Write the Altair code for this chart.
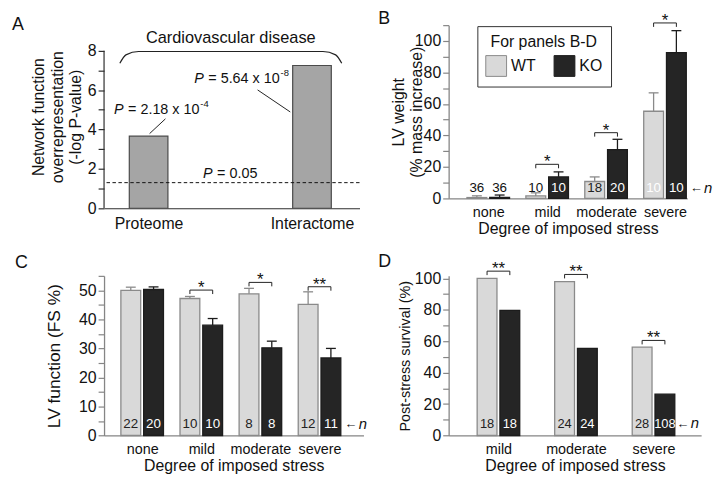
import json
import altair as alt
import pandas as pd

FONT = "Liberation Sans"
INK = "#111111"
GRAY = "#858585"
LIGHT = "#d9d9d9"
LIGHT_EDGE = "#8a8a8a"
DARK = "#252525"
DARK_EDGE = "#1c1c1c"
A_FILL = "#a5a5a5"
A_EDGE = "#4a4a4a"
A_AXIS = "#2e2e2e"

# ---------------- data ----------------
# Panel A
a_cats = ["Proteome", "Interactome"]
a_vals = [3.66, 7.25]              # -log10 P
a_pvals = ["2.18", "5.64"]
a_exps = ["-4", "-8"]
a_thresh = 1.30                    # -log10(0.05)
a_thresh_p = "0.05"
a_group = "Cardiovascular disease"

# Panel B: LV weight (% mass increase)
stress4 = ["none", "mild", "moderate", "severe"]
b_wt = [0.5, 1.5, 10.7, 55.3]
b_wt_err = [1.1, 2.0, 2.9, 11.7]
b_ko = [0.6, 13.6, 31.0, 92.5]
b_ko_err = [1.5, 3.2, 6.5, 14.0]
b_n_wt = [36, 10, 18, 10]
b_n_ko = [36, 10, 20, 10]
b_sig = ["", "*", "*", "*"]

# Panel C: LV function (FS %)
c_wt = [50.0, 47.2, 48.8, 45.2]
c_wt_err = [1.1, 0.7, 1.9, 4.3]
c_ko = [50.3, 38.0, 30.2, 26.7]
c_ko_err = [0.9, 2.3, 2.3, 3.3]
c_n_wt = [22, 10, 8, 12]
c_n_ko = [20, 10, 8, 11]
c_sig = ["", "*", "*", "**"]

# Panel D: post-stress survival (%)
stress3 = ["mild", "moderate", "severe"]
d_wt = [100.0, 98.0, 56.3]
d_ko = [79.6, 55.5, 26.3]
d_n_wt = [18, 24, 28]
d_n_ko = [18, 24, 108]
d_sig = ["**", "**", "**"]

# annotation placement (bracket heights, in data units) and label colours
b_sig_level = [None, 21.6, 41.7, 111.4]
c_sig_level = [None, 50.1, 52.75, 51.25]
d_sig_level = [104.6, 102.5, 60.5]
b_ncol_wt = [INK, INK, "#222222", "#ffffff"]
b_ncol_ko = [INK, "#ffffff", "#ffffff", "#ffffff"]
c_ncol_wt = ["#222222"] * 4
c_ncol_ko = ["#ffffff"] * 4
d_ncol_wt = ["#222222"] * 3
d_ncol_ko = ["#ffffff"] * 3


def letter_mark(letter, lx, ly):
    return alt.Chart(pd.DataFrame(dict(t=[letter]))).mark_text(
        fontSize=18, align="left", baseline="alphabetic", color=INK, font=FONT).encode(
        x=alt.value(lx), y=alt.value(ly), text="t:N")


def grouped(cats, wt, ko, wt_err, ko_err, n_wt, n_ko, ncol_wt, ncol_ko, sig, sig_level,
            unit, c0, width, height, ymax, yvalues, ylab_step, ytitle, ytitle_pad, ytitle_size,
            n_y, n_size, arrow_dx, legend, letter, lx, ly, title_lh=18):
    k = 1.0 / unit
    half, off, cap = 10 * k, 11.5 * k, 5 * k
    rows = []
    for i, c in enumerate(cats):
        for g, vals, errs, ns, ncols, sgn in (("WT", wt, wt_err, n_wt, ncol_wt, -1),
                                               ("KO", ko, ko_err, n_ko, ncol_ko, 1)):
            xc = i + sgn * off
            v = vals[i]
            r = dict(grp=g, cat=c, xc=xc, x1=xc - half, x2=xc + half, v=v, zero=0.0,
                     cx1=xc - cap, cx2=xc + cap, n=str(ns[i]), ncol=ncols[i], ny=n_y)
            if errs is not None:
                r["top"] = v + errs[i]
            rows.append(r)
    df = pd.DataFrame(rows)

    ppu = height / ymax
    drop = 4.0 / ppu
    br, st = [], []
    for i, (s, lvl) in enumerate(zip(sig, sig_level)):
        if not s:
            continue
        pts = [(i - off, lvl - drop), (i - off, lvl), (i + off, lvl), (i + off, lvl - drop)]
        for j, (px, py) in enumerate(pts):
            br.append(dict(bid=i, o=j, bx=px, by=py))
        st.append(dict(sx=float(i), sy=lvl, s=s))
    dfb = pd.DataFrame(br)
    dfs = pd.DataFrame(st)
    dfa = pd.DataFrame(dict(ax=[len(cats) - 1 + off + half], ay=[n_y], t=["\u2190"], n=["n"]))

    xs = alt.Scale(domain=[-c0 * k, (width - c0) * k], nice=False, zero=False)
    ys = alt.Scale(domain=[0, ymax], nice=False, zero=False)
    xax = alt.Axis(values=list(range(len(cats))), labelExpr=f"{json.dumps(cats)}[datum.value]",
                   ticks=False, domainColor=GRAY, domainWidth=1.3, labelFontSize=14.5,
                   labelPadding=7, labelColor=INK, labelOverlap=False, labelFlush=False,
                   title="Degree of imposed stress", titleFontSize=16, titlePadding=2,
                   titleFontWeight="normal", titleColor=INK)
    yax = alt.Axis(values=yvalues,
                   labelExpr=f"datum.value % {ylab_step} === 0 ? datum.label : ''",
                   tickSize=6, tickColor=GRAY, tickWidth=1.2, domainColor=GRAY, domainWidth=1.3,
                   labelFontSize=16, labelPadding=2, labelColor=INK, labelOverlap=False,
                   labelFlush=False, title=ytitle, titleFontSize=ytitle_size,
                   titlePadding=ytitle_pad, titleFontWeight="normal", titleColor=INK,
                   titleLineHeight=title_lh)

    def X(f):
        return alt.X(f, type="quantitative", scale=xs, axis=xax)

    def Y(f):
        return alt.Y(f, type="quantitative", scale=ys, axis=yax)

    stroke_sc = alt.Scale(domain=["WT", "KO"], range=[LIGHT_EDGE, DARK_EDGE])
    layers = [
        alt.Chart(df).mark_rect(strokeWidth=1.3).encode(
            x=X("x1"), x2="x2", y=Y("v"), y2="zero",
            color=alt.Color("grp:N", scale=alt.Scale(domain=["WT", "KO"], range=[LIGHT, DARK]),
                            legend=legend),
            stroke=alt.Stroke("grp:N", scale=stroke_sc, legend=None)),
    ]
    if wt_err is not None:
        layers += [
            alt.Chart(df).mark_rule(strokeWidth=1.3).encode(
                x=X("xc"), y=Y("v"), y2="top",
                stroke=alt.Stroke("grp:N", scale=stroke_sc, legend=None)),
            alt.Chart(df).mark_rule(strokeWidth=1.3).encode(
                x=X("cx1"), x2="cx2", y=Y("top"),
                stroke=alt.Stroke("grp:N", scale=stroke_sc, legend=None)),
        ]
    layers += [
        alt.Chart(df).mark_text(fontSize=n_size, baseline="middle", align="center", font=FONT).encode(
            x=X("xc"), y=Y("ny"), text="n:N", fill=alt.Fill("ncol:N", scale=None)),
        alt.Chart(dfb).mark_line(color="#222222", strokeWidth=1).encode(
            x=X("bx"), y=Y("by"), detail="bid:N", order="o:Q"),
        alt.Chart(dfs).mark_text(fontSize=17, baseline="alphabetic", dy=3, color=INK, font=FONT).encode(
            x=X("sx"), y=Y("sy"), text="s:N"),
        alt.Chart(dfa).mark_text(fontSize=13, align="left", baseline="middle", dx=arrow_dx,
                                 color=INK, font=FONT).encode(x=X("ax"), y=Y("ay"), text="t:N"),
        alt.Chart(dfa).mark_text(fontSize=15, align="left", baseline="middle", dx=arrow_dx + 14,
                                 fontStyle="italic", color=INK, font=FONT).encode(
            x=X("ax"), y=Y("ay"), text="n:N"),
        letter_mark(letter, lx, ly),
    ]
    return alt.layer(*layers).properties(width=width, height=height)


# ---------------- panel A ----------------
A_UNIT, A_C0, A_W, A_H, A_YMAX = 165.0, 45.0, 258.0, 184.9, 9.30
ka = 1.0 / A_UNIT
xmin_a = -A_C0 * ka
dfA = pd.DataFrame(dict(cat=a_cats, xc=[0.0, 1.0], v=a_vals))
dfA["x1"] = dfA["xc"] - 19.5 * ka
dfA["x2"] = dfA["xc"] + 19.5 * ka
dfA["zero"] = 0.0

xsA = alt.Scale(domain=[xmin_a, (A_W - A_C0) * ka], nice=False, zero=False)
ysA = alt.Scale(domain=[0, A_YMAX], nice=False, zero=False)
xaxA = alt.Axis(values=[0, 1], labelExpr=f"{json.dumps(a_cats)}[datum.value]", ticks=False,
                domainColor=A_AXIS, domainWidth=1.2, labelFontSize=16, labelPadding=7.5,
                labelColor=INK, labelOverlap=False, labelFlush=False, title=None)
yaxA = alt.Axis(values=list(range(0, 9)), labelExpr="datum.value % 2 === 0 ? datum.label : ''",
                domain=False, tickSize=6, tickColor=A_AXIS, tickWidth=1.2, labelFontSize=16,
                labelPadding=2, labelColor=INK, labelOverlap=False, labelFlush=False,
                title=["Network function", "overrepresentation", "(-log P-value)"],
                titleFontSize=16, titleLineHeight=18.5, titlePadding=4,
                titleFontWeight="normal", titleColor=INK)


def XA(f):
    return alt.X(f, type="quantitative", scale=xsA, axis=xaxA)


def YA(f):
    return alt.Y(f, type="quantitative", scale=ysA, axis=yaxA)


barsA = alt.Chart(dfA).mark_rect(fill=A_FILL, stroke=A_EDGE, strokeWidth=1.2).encode(
    x=XA("x1"), x2="x2", y=YA("v"), y2="zero")
ylineA = alt.Chart(pd.DataFrame(dict(x=[xmin_a], y0=[0.0], y1=[8.0]))).mark_rule(
    color=A_AXIS, strokeWidth=1.2).encode(x=XA("x"), y=YA("y0"), y2="y1")
threshA = alt.Chart(pd.DataFrame(dict(t=[a_thresh]))).mark_rule(
    strokeDash=[3.5, 2.5], color=INK, strokeWidth=1).encode(y=YA("t"))
brace = pd.DataFrame(dict(bx=[-0.176, -0.139, -0.061, 1.067, 1.145, 1.182],
                          by=[7.36, 7.79, 7.96, 7.96, 7.79, 7.36], o=list(range(6))))
braceA = alt.Chart(brace).mark_line(interpolate="monotone", color="#222222", strokeWidth=1.2).encode(
    x=XA("bx"), y=YA("by"), order="o:Q")
groupA = alt.Chart(pd.DataFrame(dict(gx=[0.503], gy=[8.62], t=[a_group]))).mark_text(
    fontSize=16.5, baseline="middle", align="center", color=INK, font=FONT).encode(
    x=XA("gx"), y=YA("gy"), text="t:N")
plab = pd.DataFrame(dict(
    px=[-0.153, 0.338, 0.392], py=[5.0, 6.55, 1.73], p=["P", "P", "P"],
    rest=[f"= {a_pvals[0]} x 10", f"= {a_pvals[1]} x 10", f"= {a_thresh_p}"],
    sup=[a_exps[0], a_exps[1], ""]))
pItal = alt.Chart(plab).mark_text(fontSize=14.5, fontStyle="italic", align="right",
                                  baseline="middle", color=INK, font=FONT).encode(
    x=XA("px"), y=YA("py"), text="p:N")
pRest = alt.Chart(plab).mark_text(fontSize=14.5, align="left", baseline="middle", dx=4.5,
                                  color=INK, font=FONT).encode(x=XA("px"), y=YA("py"), text="rest:N")
pSup = alt.Chart(plab).mark_text(fontSize=9.5, align="left", baseline="middle", dx=77.5, dy=-6,
                                 color=INK, font=FONT).encode(x=XA("px"), y=YA("py"), text="sup:N")
leaders = pd.DataFrame(dict(lid=[0, 0, 1, 1], lx=[0.103, 0.006, 0.667, 0.867],
                            ly=[4.54, 3.79, 6.01, 4.89], o=[0, 1, 0, 1]))
leadA = alt.Chart(leaders).mark_line(color="#222222", strokeWidth=1).encode(
    x=XA("lx"), y=YA("ly"), detail="lid:N", order="o:Q")

panelA = alt.layer(barsA, threshA, ylineA, braceA, groupA, leadA, pItal, pRest, pSup,
                   letter_mark("A", -93, 4.6)).properties(width=A_W, height=A_H)

# ---------------- panels B, C, D ----------------
legendB = alt.Legend(orient="none", legendX=29, legendY=1, direction="horizontal",
                     title="For panels B-D", titleFontSize=16, titleFontWeight="normal",
                     titleFont=FONT, titleAnchor="middle", titlePadding=5, titleColor=INK,
                     labelFontSize=16, labelFont=FONT, labelColor=INK, labelOffset=4,
                     symbolType="square", symbolSize=441, symbolStrokeColor="#666666",
                     symbolStrokeWidth=1, symbolOpacity=1, columnPadding=16, padding=8,
                     strokeColor="#333333", fillColor="white")

panelB = grouped(stress4, b_wt, b_ko, b_wt_err, b_ko_err, b_n_wt, b_n_ko, b_ncol_wt, b_ncol_ko,
                 b_sig, b_sig_level, unit=59.5, c0=40.0, width=241, height=174.9, ymax=110,
                 yvalues=list(range(0, 111, 10)), ylab_step=20,
                 ytitle=["LV weight", "(% mass increase)"], ytitle_pad=-10, ytitle_size=16,
                 n_y=6.5, n_size=13.5, arrow_dx=4, legend=legendB,
                 letter="B", lx=-71, ly=-1, title_lh=18)

panelC = grouped(stress4, c_wt, c_ko, c_wt_err, c_ko_err, c_n_wt, c_n_ko, c_ncol_wt, c_ncol_ko,
                 c_sig, c_sig_level, unit=59.7, c0=38.5, width=262, height=161.2, ymax=55,
                 yvalues=list(range(0, 56, 5)), ylab_step=10,
                 ytitle="LV function (FS %)", ytitle_pad=15, ytitle_size=17.5,
                 n_y=4.1, n_size=13.5, arrow_dx=4, legend=None,
                 letter="C", lx=-90, ly=-7.5)

panelD = grouped(stress3, d_wt, d_ko, None, None, d_n_wt, d_n_ko, d_ncol_wt, d_ncol_ko,
                 d_sig, d_sig_level, unit=78.3, c0=50.3, width=255, height=161.2, ymax=101.6,
                 yvalues=list(range(0, 101, 10)), ylab_step=20,
                 ytitle="Post-stress survival (%)", ytitle_pad=2, ytitle_size=14.5,
                 n_y=7.6, n_size=13, arrow_dx=2, legend=None,
                 letter="D", lx=-71, ly=-8.5)

chart = alt.concat(panelA, panelB, panelC, panelD, columns=2, bounds="flush",
                   spacing={"row": 68.2, "column": 86}).resolve_scale(
    x="independent", y="independent", color="independent", stroke="independent",
    fill="independent").properties(
    padding={"left": 4, "top": 0, "right": 2, "bottom": 0}
).configure(font=FONT).configure_view(stroke=None).configure_axis(
    grid=False, labelFont=FONT, titleFont=FONT)

chart.save("out.html", embed_options={"renderer": "svg", "actions": False})
